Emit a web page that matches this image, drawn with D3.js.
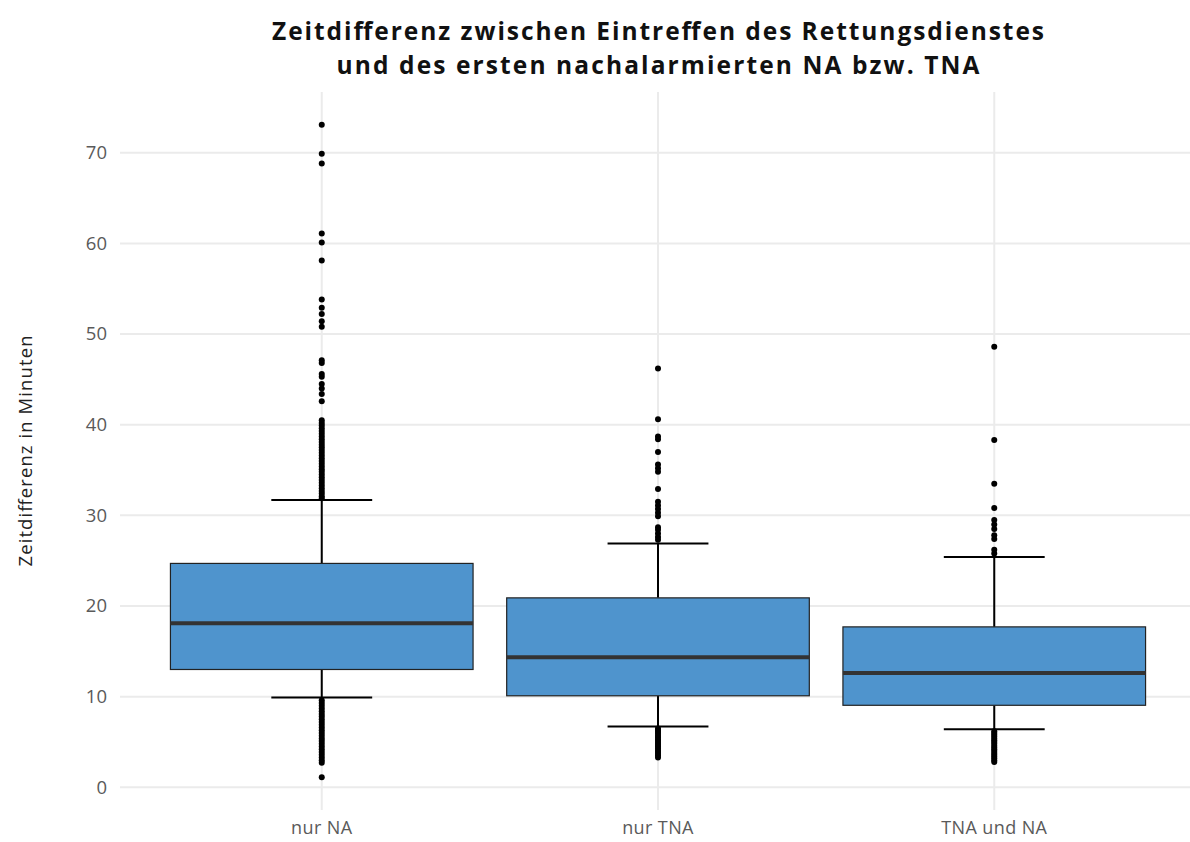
<!DOCTYPE html>
<html>
<head>
<meta charset="utf-8">
<script src="https://cdn.jsdelivr.net/npm/d3@7"></script>
<style>
  body { margin: 0; background: #fff; }
  svg { display: block; }
</style>
</head>
<body>
<div id="chart"></div>
<script>
// categories and box statistics (minutes)
var categories = ["nur NA", "nur TNA", "TNA und NA"];
var q1 = [13.0, 10.1, 9.05];
var median = [18.1, 14.35, 12.6];
var q3 = [24.7, 20.9, 17.7];
var whiskerLow = [9.9, 6.7, 6.4];
var whiskerHigh = [31.7, 26.9, 25.4];

// outliers per category
var outliersNA = [73.1, 69.9, 68.8, 61.1, 60.1, 58.1, 53.8, 52.9, 52.2, 51.4, 50.8,
  47.1, 46.8, 45.6, 45.3, 44.5, 44.0, 43.4, 42.6, 40.5, 40.2, 39.9, 39.6, 39.3, 39.0,
  38.7, 38.4, 38.1, 37.8, 37.5, 37.2, 36.9, 36.6, 36.3, 36.0, 35.7, 35.4, 35.1, 34.8,
  34.5, 34.2, 33.9, 33.6, 33.3, 33.0, 32.7, 32.4, 32.1, 31.9,
  9.6, 9.3, 9.0, 8.7, 8.4, 8.1, 7.8, 7.5, 7.2, 6.9, 6.6, 6.3, 6.0, 5.7, 5.4, 5.1,
  4.8, 4.5, 4.2, 3.9, 3.6, 3.3, 3.0, 2.7, 1.1];
var outliersTNA = [46.2, 40.6, 38.7, 38.4, 37.0, 35.6, 35.2, 34.8, 32.9, 31.5, 31.1,
  30.7, 30.3, 29.9, 28.7, 28.4, 28.0, 27.6, 27.3,
  6.5, 6.3, 6.1, 5.9, 5.7, 5.5, 5.3, 5.1, 4.9, 4.7, 4.5, 4.3, 4.1, 3.9, 3.7, 3.5, 3.3];
var outliersBoth = [48.6, 38.3, 33.5, 30.8, 29.5, 29.0, 28.5, 27.8, 27.4, 26.2, 25.8,
  6.2, 6.0, 5.8, 5.6, 5.4, 5.2, 5.0, 4.8, 4.6, 4.4, 4.2, 4.0, 3.8, 3.6, 3.4, 3.2, 3.0, 2.8];
var outliers = [outliersNA, outliersTNA, outliersBoth];

var yTicks = [0, 10, 20, 30, 40, 50, 60, 70];

var titleLines = ["Zeitdifferenz zwischen Eintreffen des Rettungsdienstes",
  "und des ersten nachalarmierten NA bzw. TNA"];
var yTitle = "Zeitdifferenz in Minuten";

var width = 1190, height = 842;
var panelL = 120, panelR = 1196, panelT = 92, panelB = 810;

var boxes = categories.map(function (c, i) {
  return { cat: c, q1: q1[i], med: median[i], q3: q3[i], lo: whiskerLow[i], hi: whiskerHigh[i], out: outliers[i] };
});

// y domain with 5% expansion like ggplot
var all = [];
boxes.forEach(function (b) { all = all.concat(b.out, [b.lo, b.hi]); });
var ext = d3.extent(all);
var pad = (ext[1] - ext[0]) * 0.05;

var y = d3.scaleLinear().domain([ext[0] - pad, ext[1] + pad]).range([panelB, panelT]);
var x = d3.scaleBand().domain(categories).range([panelL, panelR]).paddingInner(0).paddingOuter(0.1);
var step = x.step();
var cx = function (c) { return x(c) + x.bandwidth() / 2; };

var svg = d3.select("#chart").append("svg").attr("width", width).attr("height", height);

// grid
svg.append("g").selectAll("line.h").data(yTicks).enter().append("line")
  .attr("x1", panelL).attr("x2", panelR)
  .attr("y1", function (d) { return y(d); }).attr("y2", function (d) { return y(d); })
  .attr("stroke", "#EBEBEB").attr("stroke-width", 2);
svg.append("g").selectAll("line.v").data(categories).enter().append("line")
  .attr("x1", cx).attr("x2", cx)
  .attr("y1", panelT).attr("y2", panelB)
  .attr("stroke", "#EBEBEB").attr("stroke-width", 2);

// y axis labels
var yAxis = d3.axisLeft(y).tickValues(yTicks).tickSize(0).tickPadding(0);
var yg = svg.append("g").attr("transform", "translate(" + (panelL - 13) + ",0)").call(yAxis);
yg.select(".domain").remove();
yg.selectAll("text").attr("font-family", "'Open Sans', sans-serif").attr("font-size", 18.5)
  .attr("fill", "#5a5a5a");

// x axis labels
var xAxis = d3.axisBottom(x).tickSize(0).tickPadding(0);
var xg = svg.append("g").attr("transform", "translate(0," + (panelB + 11) + ")").call(xAxis);
xg.select(".domain").remove();
xg.selectAll("text").attr("font-family", "'Open Sans', sans-serif").attr("font-size", 18)
  .attr("letter-spacing", 0.4).attr("fill", "#5a5a5a");

// boxes
var g = svg.append("g").selectAll("g.box").data(boxes).enter().append("g");

// whiskers
g.append("line").attr("x1", function (d) { return cx(d.cat); }).attr("x2", function (d) { return cx(d.cat); })
  .attr("y1", function (d) { return y(d.q3); }).attr("y2", function (d) { return y(d.hi); })
  .attr("stroke", "#000").attr("stroke-width", 2);
g.append("line").attr("x1", function (d) { return cx(d.cat); }).attr("x2", function (d) { return cx(d.cat); })
  .attr("y1", function (d) { return y(d.q1); }).attr("y2", function (d) { return y(d.lo); })
  .attr("stroke", "#000").attr("stroke-width", 2);
// caps (width 0.3)
["hi", "lo"].forEach(function (k) {
  g.append("line")
    .attr("x1", function (d) { return cx(d.cat) - step * 0.15; })
    .attr("x2", function (d) { return cx(d.cat) + step * 0.15; })
    .attr("y1", function (d) { return y(d[k]); }).attr("y2", function (d) { return y(d[k]); })
    .attr("stroke", "#000").attr("stroke-width", 2);
});

// outliers
g.selectAll("circle").data(function (d) { return d.out.map(function (v) { return { cat: d.cat, v: v }; }); })
  .enter().append("circle")
  .attr("cx", function (d) { return cx(d.cat); })
  .attr("cy", function (d) { return y(d.v); })
  .attr("r", 3).attr("fill", "#000");

// box body (width 0.9)
g.append("rect")
  .attr("x", function (d) { return cx(d.cat) - step * 0.45; })
  .attr("width", step * 0.9)
  .attr("y", function (d) { return y(d.q3); })
  .attr("height", function (d) { return y(d.q1) - y(d.q3); })
  .attr("fill", "#4F94CD").attr("stroke", "#222").attr("stroke-width", 1.2);
g.append("line")
  .attr("x1", function (d) { return cx(d.cat) - step * 0.45; })
  .attr("x2", function (d) { return cx(d.cat) + step * 0.45; })
  .attr("y1", function (d) { return y(d.med); }).attr("y2", function (d) { return y(d.med); })
  .attr("stroke", "#333").attr("stroke-width", 4);

// titles (two separate lines)
var midX = (panelL + panelR) / 2;
var titleWidths = [772, 643];
svg.append("g").selectAll("text.title").data(titleLines).enter().append("text")
  .attr("x", midX).attr("y", function (d, i) { return 40 + i * 33.5; })
  .attr("text-anchor", "middle").attr("font-family", "'Open Sans', sans-serif")
  .attr("font-weight", 700).attr("font-size", 24.5).attr("fill", "#111")
  .attr("textLength", function (d, i) { return titleWidths[i]; })
  .attr("lengthAdjust", "spacing")
  .text(function (d) { return d; });

svg.append("text")
  .attr("transform", "translate(32," + ((panelT + panelB) / 2) + ") rotate(-90)")
  .attr("text-anchor", "middle").attr("font-family", "'Open Sans', sans-serif")
  .attr("font-size", 18.5).attr("fill", "#222")
  .attr("textLength", 231).attr("lengthAdjust", "spacing")
  .text(yTitle);
</script>
</body>
</html>
